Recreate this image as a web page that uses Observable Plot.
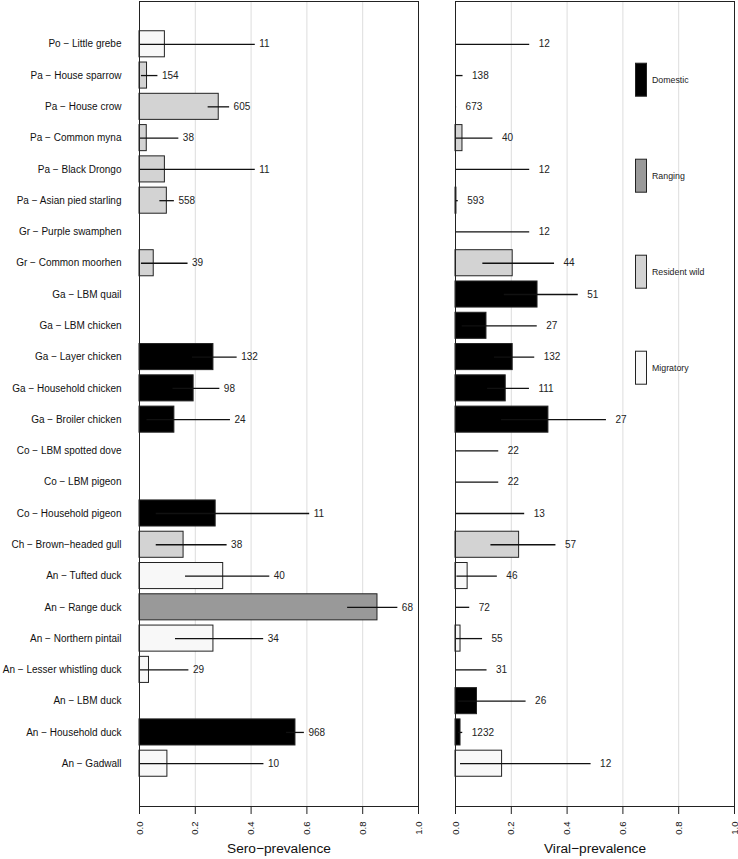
<!DOCTYPE html>
<html><head><meta charset="utf-8">
<script src="https://cdn.jsdelivr.net/npm/d3@7"></script>
<script src="https://cdn.jsdelivr.net/npm/@observablehq/plot@0.6"></script>
<style>
body{margin:0;background:#fff;font-family:"Liberation Sans",Arial,sans-serif;}
#wrap{position:relative;width:738px;height:859px;display:flex;}
#legend{position:absolute;left:0;top:0;pointer-events:none;}
</style></head><body><div id="wrap"></div>
<script>
const species = [
  "Po − Little grebe","Pa − House sparrow","Pa − House crow","Pa − Common myna",
  "Pa − Black Drongo","Pa − Asian pied starling","Gr − Purple swamphen","Gr − Common moorhen",
  "Ga − LBM quail","Ga − LBM chicken","Ga − Layer chicken","Ga − Household chicken",
  "Ga − Broiler chicken","Co − LBM spotted dove","Co − LBM pigeon","Co − Household pigeon",
  "Ch − Brown−headed gull","An − Tufted duck","An − Range duck","An − Northern pintail",
  "An − Lesser whistling duck","An − LBM duck","An − Household duck","An − Gadwall"
];
const groups = [
  "Migratory","Resident wild","Resident wild","Resident wild",
  "Resident wild","Resident wild","Resident wild","Resident wild",
  "Domestic","Domestic","Domestic","Domestic",
  "Domestic","Domestic","Domestic","Domestic",
  "Resident wild","Migratory","Ranging","Migratory",
  "Migratory","Domestic","Domestic","Migratory"
];
const seroPrev = [0.091,0.027,0.284,0.026,0.091,0.098,null,0.051,null,null,0.265,0.194,0.125,null,null,0.273,0.158,0.300,0.853,0.265,0.034,null,0.559,0.100];
const seroLo   = [0,0.007,0.246,0,0,0.073,null,0.007,null,null,0.19,0.12,0.027,null,null,0.06,0.06,0.165,0.746,0.129,0,null,0.527,0.003];
const seroHi   = [0.415,0.066,0.323,0.141,0.415,0.125,null,0.174,null,null,0.35,0.288,0.326,null,null,0.61,0.314,0.467,0.926,0.445,0.177,null,0.591,0.446];
const seroN    = [11,154,605,38,11,558,null,39,null,null,132,98,24,null,null,11,38,40,68,34,29,null,968,10];

const viralPrev = [0,0,0,0.025,0,0.0034,0,0.205,0.294,0.111,0.205,0.18,0.333,0,0,0,0.228,0.0435,0,0.018,0,0.077,0.018,0.167];
const viralLo   = [0,0,0,0,0,0,0,0.098,0.175,0.024,0.14,0.115,0.165,0,0,0,0.127,0.005,0,0,0,0.01,0.011,0.018];
const viralHi   = [0.266,0.027,0.004,0.134,0.266,0.01,0.266,0.355,0.44,0.293,0.284,0.265,0.541,0.155,0.155,0.248,0.36,0.15,0.051,0.097,0.113,0.253,0.026,0.486];
const viralN    = [12,138,673,40,12,593,12,44,51,27,132,111,27,22,22,13,57,46,72,55,31,26,1232,12];

const xTicks = [0,0.2,0.4,0.6,0.8,1.0];
const groupNames = ["Domestic","Ranging","Resident wild","Migratory"];
const groupFills = ["#000000","#999999","#d3d3d3","#f8f8f8"];

const FONT = "'Liberation Sans', Arial, Helvetica, sans-serif";

function panel({prev, lo, hi, n, title, width, marginLeft, marginRight, showY, labelDx}) {
  const rows = species.map((s,i)=>({species:s, group:groups[i], prev:prev[i], lo:lo[i], hi:hi[i], n:n[i]}));
  const tested = rows.filter(d => d.n != null);
  return Plot.plot({
    width, height: 859,
    marginTop: 1, marginBottom: 53, marginLeft, marginRight,
    style: {fontFamily: FONT, fontSize: "10px", color: "#111", background: "white", overflow: "visible"},
    x: {domain: [0,1], axis: null},
    y: {domain: species, paddingInner: 1/6, paddingOuter: 0.951, round: false, axis: null},
    color: {domain: groupNames, range: groupFills},
    marks: [
      Plot.gridX(xTicks.slice(1,-1), {stroke: "#dddddd", strokeOpacity: 1, strokeWidth: 1}),
      Plot.barX(tested.filter(d => d.prev > 0), {x: "prev", y: "species", fill: "group", stroke: "#222", strokeWidth: 1}),
      Plot.ruleY(tested, {x1: "lo", x2: "hi", y: "species", stroke: "#111", strokeWidth: 1.3}),
      Plot.text(tested, {x: "hi", y: "species", text: d => String(d.n), textAnchor: "start", dx: labelDx, fontSize: 10, fill: "#222"}),
      Plot.frame({stroke: "#222", strokeWidth: 1}),
      Plot.axisX({ticks: xTicks, tickFormat: d3.format(".1f"), tickSize: 8, tickPadding: 7, tickRotate: -90, fontSize: 9.5, label: null, stroke: "#222"}),
      Plot.text([title], {frameAnchor: "bottom", dy: 46, fontSize: 13.7, fill: "#111"}),
      showY ? Plot.axisY({tickSize: 0, tickPadding: 18, fontSize: 10, label: null}) : null
    ]
  });
}

const wrap = document.getElementById("wrap");
wrap.append(panel({prev: seroPrev, lo: seroLo, hi: seroHi, n: seroN, title: "Sero−prevalence",
  width: 437, marginLeft: 139, marginRight: 19, showY: true, labelDx: 4}));
wrap.append(panel({prev: viralPrev, lo: viralLo, hi: viralHi, n: viralN, title: "Viral−prevalence",
  width: 301, marginLeft: 18, marginRight: 4, showY: false, labelDx: 9}));

// Legend (drawn inside the right panel, as in the original)
const legendX = 635, legendTop = 62.7, legendStep = 96, swW = 11, swH = 33;
const lg = d3.select(wrap).append("svg").attr("id","legend").attr("width",738).attr("height",859)
  .style("font-family", FONT);
const items = lg.selectAll("g").data(groupNames).join("g")
  .attr("transform", (d,i) => `translate(${legendX},${legendTop + i*legendStep})`);
items.append("rect").attr("x",0.5).attr("y",0.5).attr("width",swW).attr("height",swH)
  .attr("fill",(d,i)=>groupFills[i]).attr("stroke","#222").attr("stroke-width",1);
items.append("text").attr("x",17).attr("y",swH/2+1).attr("dy","0.35em")
  .attr("font-size",8.8).attr("fill","#222").text(d=>d);
</script>
</body></html>
